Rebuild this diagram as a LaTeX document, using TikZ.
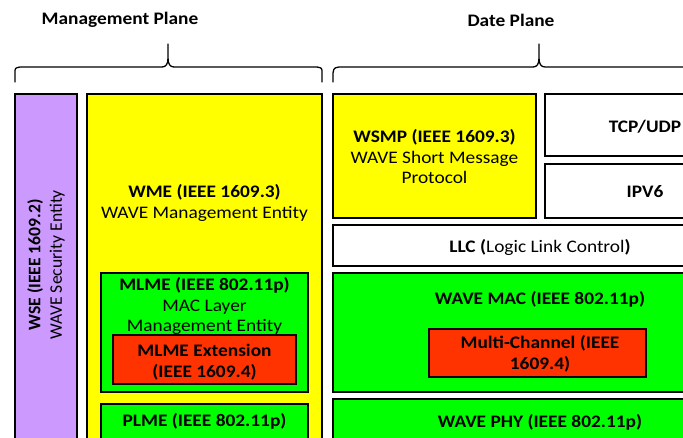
\documentclass[tikz,border=0pt]{standalone}
\usepackage{fontspec}
\setmainfont{Carlito}[FakeStretch=1.1]
\newfontfamily\vfont{Carlito}
\usetikzlibrary{fit}
\definecolor{wpurple}{HTML}{CC99FF}
\definecolor{wyellow}{HTML}{FFFF00}
\definecolor{wgreen}{HTML}{00FF00}
\definecolor{wred}{HTML}{FF3300}
\begin{document}
\begin{tikzpicture}[x=1pt,y=-1pt,
  box/.style={draw=black, line width=1.4pt, inner sep=0pt},
  txt/.style={align=center, font=\fontsize{17.6}{20.5}\selectfont, inner sep=0pt},
  vtxt/.style={align=center, font=\vfont\fontsize{17.6}{21.5}\selectfont, inner sep=0pt, rotate=90},
  brace/.style={line width=1.3pt, line cap=round, line join=round}]
\useasboundingbox (0,0) rectangle (683,438);
\clip (0,0) rectangle (683,438);
% titles
\node[txt, font=\fontsize{17.6}{20.5}\selectfont\bfseries] (mplane) at (120,20) {Management Plane};
\node[txt, font=\fontsize{17.6}{20.5}\selectfont\bfseries] (dplane) at (511,20) {Date Plane};
% braces
\draw[brace] (15,82) -- (15,73) .. controls (15,68) .. (20,67) -- (162,67)
  .. controls (166,67) and (168,64) .. (168,58) -- (168,44)
  (168,58) .. controls (168,64) and (170,67) .. (174,67) -- (317,67)
  .. controls (322,68) .. (322,73) -- (322,82);
\draw[brace] (333,82) -- (333,73) .. controls (334,68) .. (339,67) -- (533,67)
  .. controls (537,67) and (539,64) .. (539,58) -- (539,44)
  (539,58) .. controls (539,64) and (541,67) .. (545,67) -- (700,67);
% management plane
\node[box, fill=wpurple, fit={(15,94) (77,470)}] (wse) {};
\node[vtxt] (wset) at (46,265) {\bfseries WSE (IEEE 1609.2)\\WAVE Security Entity};
\node[box, fill=wyellow, fit={(87,94) (322,470)}] (wme) {};
\node[txt] (wmet) at (204.5,203) {\textbf{WME (IEEE 1609.3)}\\WAVE Management Entity};
\node[box, fill=wgreen, fit={(101,273) (308,392)}] (mlme) {};
\node[txt] (mlmet) at (204.5,306) {\textbf{MLME (IEEE 802.11p)}\\MAC Layer\\Management Entity};
\node[box, fill=wred, fit={(113,335) (296,384)}] (mlmex) {};
\node[txt, font=\fontsize{17.6}{20.5}\selectfont\bfseries] (mlmext) at (204.5,362) {MLME Extension\\(IEEE 1609.4)};
\node[box, fill=wgreen, fit={(101,404) (308,460)}] (plme) {};
\node[txt, font=\fontsize{17.6}{20.5}\selectfont\bfseries] (plmet) at (204.5,421) {PLME (IEEE 802.11p)};
% data plane
\node[box, fill=wyellow, fit={(333,94) (536,218)}] (wsmp) {};
\node[txt] (wsmpt) at (434.5,157) {\textbf{WSMP (IEEE 1609.3)}\\WAVE Short Message\\Protocol};
\node[box, fill=white, fit={(545,94) (745,156)}] (tcp) {};
\node[txt, font=\fontsize{17.6}{20.5}\selectfont\bfseries] (tcpt) at (645,127) {TCP/UDP};
\node[box, fill=white, fit={(545,164) (745,218)}] (ipv6) {};
\node[txt, font=\fontsize{17.6}{20.5}\selectfont\bfseries] (ipv6t) at (645,192) {IPV6};
\node[box, fill=white, fit={(333,225) (745,266)}] (llc) {};
\node[txt] (llct) at (540,247) {\textbf{LLC (}Logic Link Control\textbf{)}};
\node[box, fill=wgreen, fit={(333,273) (745,392)}] (mac) {};
\node[txt, font=\fontsize{17.6}{20.5}\selectfont\bfseries] (mact) at (540,299) {WAVE MAC (IEEE 802.11p)};
\node[box, fill=wred, fit={(429,329) (646,377)}] (multi) {};
\node[txt, font=\fontsize{17.6}{20.5}\selectfont\bfseries] (multit) at (540,354) {Multi-Channel (IEEE\\1609.4)};
\node[box, fill=wgreen, fit={(333,399) (745,470)}] (phy) {};
\node[txt, font=\fontsize{17.6}{20.5}\selectfont\bfseries] (phyt) at (540,422) {WAVE PHY (IEEE 802.11p)};
\end{tikzpicture}
\end{document}
